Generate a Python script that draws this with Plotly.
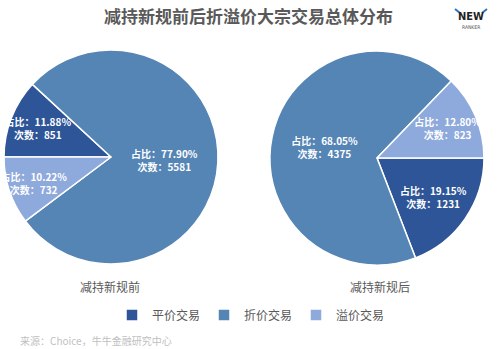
import plotly.graph_objects as go

# Block-trade counts by pricing type, before and after the new share-reduction rules
categories = ["平价交易", "折价交易", "溢价交易"]
before_counts = [851, 5581, 732]
after_counts = [1231, 4375, 823]
panel_titles = ["减持新规前", "减持新规后"]
colors = ["#2E5597", "#5585B5", "#8EA9DB"]

W, H = 500, 349
font_cjk = "Noto Sans CJK SC"


def pie_domain(cx, cy, r):
    return dict(x=[(cx - r) / W, (cx + r) / W], y=[1 - (cy + r) / H, 1 - (cy - r) / H])


fig = go.Figure()
for vals, dom, rot in [
    (before_counts, pie_domain(111, 157, 107), 270),
    (after_counts, pie_domain(377, 158, 107), 90),
]:
    fig.add_trace(go.Pie(
        labels=categories,
        values=vals,
        domain=dom,
        sort=False,
        direction="clockwise",
        rotation=rot,
        marker=dict(colors=colors, line=dict(color="white", width=1.5)),
        texttemplate="占比：%{percent:.2%}<br>次数：%{value}",
        textposition="inside",
        insidetextorientation="horizontal",
        insidetextfont=dict(family=font_cjk, size=10, color="white", weight="bold"),
        hoverinfo="label+value+percent",
    ))

annotations = [
    dict(text="减持新规前后折溢价大宗交易总体分布", x=248 / W, y=1 - 15 / H,
         font=dict(family=font_cjk, size=17, color="#595959", weight="bold")),
    dict(text=panel_titles[0], x=110 / W, y=1 - 286 / H,
         font=dict(family=font_cjk, size=12, color="#595959")),
    dict(text=panel_titles[1], x=380 / W, y=1 - 286 / H,
         font=dict(family=font_cjk, size=12, color="#595959")),
    dict(text="来源：Choice，牛牛金融研究中心", x=18 / W, y=1 - 340 / H, xanchor="left",
         font=dict(family=font_cjk, size=10, color="#BFBFBF")),
    dict(text="NEW", x=471 / W, y=1 - 16 / H,
         font=dict(family="DejaVu Sans Condensed", size=11, color="#222222", weight="bold")),
    dict(text="RANKER", x=471 / W, y=1 - 27 / H,
         font=dict(family="DejaVu Sans Condensed", size=5, color="#555555")),
]
for a in annotations:
    a.update(xref="paper", yref="paper", showarrow=False)
    a.setdefault("xanchor", "center")
    a["yanchor"] = "middle"

# small horn strokes of the logo
logo_shapes = [
    dict(type="line", x0=455 / W, y0=1 - 9 / H, x1=460 / W, y1=1 - 13 / H),
    dict(type="line", x0=487 / W, y0=1 - 9 / H, x1=482 / W, y1=1 - 13 / H),
]
for s in logo_shapes:
    s.update(xref="paper", yref="paper", line=dict(color="#2E75B6", width=2))

fig.update_layout(
    width=W, height=H,
    margin=dict(l=0, r=0, t=0, b=0),
    paper_bgcolor="white",
    showlegend=True,
    uniformtext=dict(minsize=10, mode="show"),
    legend=dict(orientation="h", x=0.5, xanchor="center", y=1 - 315 / H, yanchor="middle",
                font=dict(family=font_cjk, size=12, color="#595959"),
                itemwidth=30, entrywidth=47, entrywidthmode="pixels",
                traceorder="normal"),
    annotations=annotations,
    shapes=logo_shapes,
)

fig.write_html("out.html")
